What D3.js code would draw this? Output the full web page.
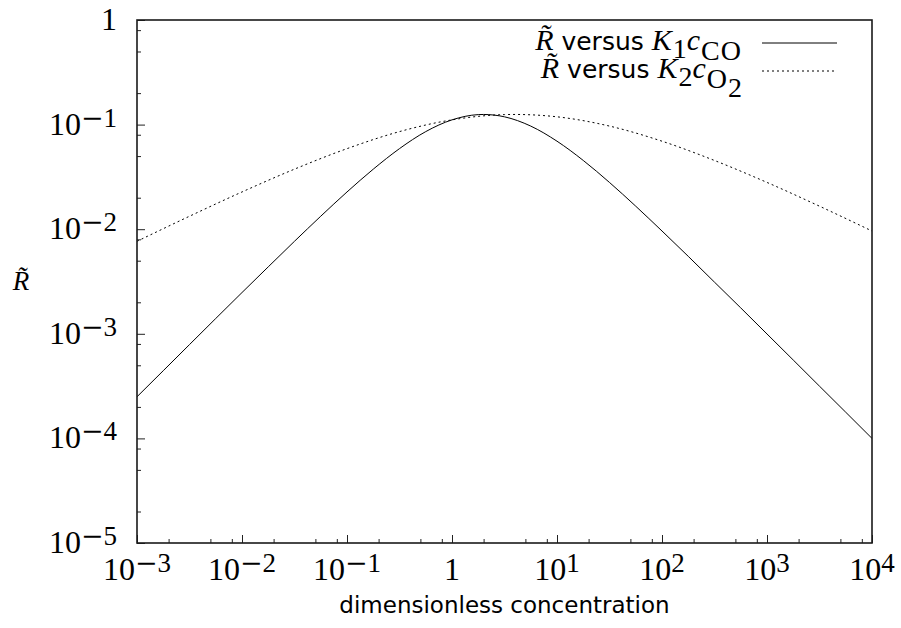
<!DOCTYPE html>
<html>
<head>
<meta charset="utf-8">
<script src="https://cdn.jsdelivr.net/npm/d3@7"></script>
<style>
  body { margin: 0; background: #fff; }
</style>
</head>
<body>
<div id="visual"></div>
<script>
// tick values (decades) and minor tick multipliers
var xTicks = [1e-3, 1e-2, 1e-1, 1, 1e1, 1e2, 1e3, 1e4];
var yTicks = [1e-5, 1e-4, 1e-3, 1e-2, 1e-1, 1];
var minorMult = [2, 5, 8];

// R~ versus K1 cCO (solid)
var concCO = [0.001, 0.00178, 0.00316, 0.00562, 0.01, 0.0178, 0.0316, 0.0562, 0.1, 0.178, 0.316, 0.562,
              1, 1.78, 2, 3.16, 5.62, 10, 17.8, 31.6, 56.2, 100, 178, 316, 562, 1000, 1780, 3160, 5620, 10000];
var rateCO = [2.50e-4, 4.44e-4, 7.88e-4, 1.40e-3, 2.48e-3, 4.37e-3, 7.66e-3, 0.0133, 0.0227, 0.0375, 0.0589, 0.0857,
              0.111, 0.1246, 0.125, 0.1187, 0.0968, 0.0694, 0.0454, 0.0280, 0.0166, 9.61e-3, 5.50e-3, 3.12e-3, 1.77e-3, 9.96e-4, 5.61e-4, 3.16e-4, 1.78e-4, 1.0e-4];

// R~ versus K2 cO2 (dotted)
var concO2 = [0.001, 0.00316, 0.01, 0.0316, 0.1, 0.316, 1, 3.16, 4, 10, 31.6, 100, 316, 1000, 3160, 10000];
var rateO2 = [7.66e-3, 0.0133, 0.0227, 0.0375, 0.0589, 0.0857, 0.111, 0.1246, 0.125, 0.1187, 0.0968, 0.0694, 0.0454, 0.0280, 0.0166, 9.61e-3];

var margin = {top: 20, right: 29, bottom: 85, left: 137},
    width = 901 - margin.left - margin.right,
    height = 628 - margin.top - margin.bottom;

var serif = "'Liberation Serif', 'Times New Roman', serif";
var sans = "'DejaVu Sans', Verdana, sans-serif";

var svg = d3.select("#visual")
  .append("svg")
    .attr("width", 901)
    .attr("height", 628)
  .append("g")
    .attr("transform", "translate(" + margin.left + "," + margin.top + ")");

var x = d3.scaleLog().domain([1e-3, 1e4]).range([0, width]);
var y = d3.scaleLog().domain([1e-5, 1]).range([height, 0]);

function minors(ticks) {
  var out = [];
  ticks.slice(0, -1).forEach(function(t) {
    minorMult.forEach(function(m) { out.push(t * m); });
  });
  return out;
}

// ticks (inward)
svg.append("g")
  .attr("transform", "translate(0," + height + ")")
  .call(d3.axisBottom(x).tickValues(xTicks).tickSize(-8).tickFormat(""))
  .call(function(g) { g.select(".domain").remove(); });
svg.append("g")
  .attr("transform", "translate(0," + height + ")")
  .call(d3.axisBottom(x).tickValues(minors(xTicks)).tickSize(-4).tickFormat(""))
  .call(function(g) { g.select(".domain").remove(); });
svg.append("g")
  .call(d3.axisLeft(y).tickValues(yTicks).tickSize(-8).tickFormat(""))
  .call(function(g) { g.select(".domain").remove(); });
svg.append("g")
  .call(d3.axisLeft(y).tickValues(minors(yTicks)).tickSize(-4).tickFormat(""))
  .call(function(g) { g.select(".domain").remove(); });
svg.selectAll(".tick line").attr("stroke", "#222").attr("stroke-width", 1);

// tick labels 10^n
function powLabel(sel, v) {
  var e = Math.round(Math.log10(v));
  if (e === 0) { sel.append("tspan").text("1"); return; }
  sel.append("tspan").text("10");
  var sup = sel.append("tspan").attr("dy", -8).attr("font-size", 27);
  if (e < 0) sup.append("tspan").attr("font-family", "'DejaVu Serif', serif").text("\u2212");
  sup.append("tspan").text(Math.abs(e));
}

svg.selectAll(".xlab")
  .data(xTicks)
  .enter().append("text")
    .attr("class", "xlab")
    .attr("x", function(d) { return x(d); })
    .attr("y", height + 37)
    .attr("text-anchor", "middle")
    .attr("font-family", serif)
    .attr("font-size", 32)
    .attr("fill", "#000")
    .each(function(d) { powLabel(d3.select(this), d); });

svg.selectAll(".ylab")
  .data(yTicks)
  .enter().append("text")
    .attr("class", "ylab")
    .attr("x", -20)
    .attr("y", function(d) { return y(d) + 10; })
    .attr("text-anchor", "end")
    .attr("font-family", serif)
    .attr("font-size", 32)
    .attr("fill", "#000")
    .each(function(d) { powLabel(d3.select(this), d); });

// curves
svg.append("defs").append("clipPath").attr("id", "clip")
  .append("rect").attr("width", width).attr("height", height);

var lineGen = d3.line()
  .x(function(d) { return x(d[0]); })
  .y(function(d) { return y(d[1]); })
  .curve(d3.curveMonotoneX);

var plot = svg.append("g").attr("clip-path", "url(#clip)");
plot.append("path")
  .datum(d3.zip(concCO, rateCO))
  .attr("fill", "none")
  .attr("stroke", "#000")
  .attr("stroke-width", 1)
  .attr("d", lineGen);
plot.append("path")
  .datum(d3.zip(concO2, rateO2))
  .attr("fill", "none")
  .attr("stroke", "#000")
  .attr("stroke-width", 1)
  .attr("stroke-dasharray", "2,3")
  .attr("d", lineGen);

// frame
svg.append("rect")
  .attr("width", width)
  .attr("height", height)
  .attr("fill", "none")
  .attr("stroke", "#1a1a1a")
  .attr("stroke-width", 1.6);

// legend
var legX = 742 - margin.left;
function legRow(yb, sub1, subParts, dash) {
  var t = svg.append("text")
    .attr("x", legX)
    .attr("y", yb - margin.top)
    .attr("text-anchor", "end")
    .attr("font-family", serif)
    .attr("font-size", 30)
    .attr("fill", "#000");
  t.append("tspan").attr("font-style", "italic").text("R\u0303");
  t.append("tspan").attr("font-family", sans).attr("font-size", 25).text(" versus ");
  t.append("tspan").attr("font-style", "italic").attr("letter-spacing", 1).text("K");
  t.append("tspan").attr("font-size", 28).attr("dy", 8).text(sub1);
  t.append("tspan").attr("font-style", "italic").attr("dy", -8).attr("letter-spacing", 1).text("c");
  t.append("tspan").attr("font-size", 28).attr("dy", 10).attr("letter-spacing", 1).text(subParts[0]);
  if (subParts[1]) t.append("tspan").attr("font-size", 28).attr("dy", 9).text(subParts[1]);
  svg.append("line")
    .attr("x1", 762 - margin.left).attr("x2", 837 - margin.left)
    .attr("y1", yb - 7 - margin.top).attr("y2", yb - 7 - margin.top)
    .attr("stroke", "#000")
    .attr("stroke-width", 1)
    .attr("stroke-dasharray", dash);
}
legRow(50, "1", ["CO"], null);
legRow(78, "2", ["O", "2"], "2,3");

// axis titles
svg.append("text")
  .attr("x", width / 2)
  .attr("y", 613 - margin.top)
  .attr("text-anchor", "middle")
  .attr("font-family", sans)
  .attr("font-size", 23)
  .attr("fill", "#000")
  .text("dimensionless concentration");

svg.append("text")
  .attr("x", 21 - margin.left)
  .attr("y", 290 - margin.top)
  .attr("text-anchor", "middle")
  .attr("font-family", serif)
  .attr("font-style", "italic")
  .attr("font-size", 27)
  .attr("fill", "#000")
  .text("R\u0303");
</script>
</body>
</html>
